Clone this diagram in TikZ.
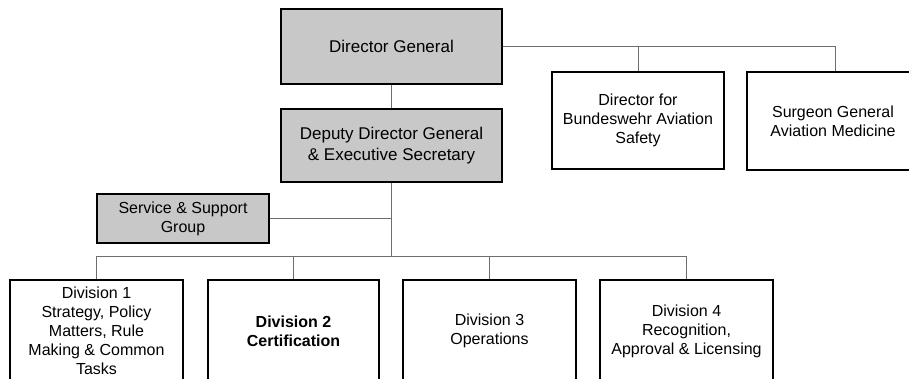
\documentclass[tikz,border=0pt]{standalone}
\usepackage{fontspec}
\setmainfont{Liberation Sans}
\definecolor{boxgray}{RGB}{200,200,200}
\definecolor{linegray}{RGB}{110,110,110}
\begin{document}
\begin{tikzpicture}[x=1pt,y=-1pt,
  box/.style={draw=black,line width=1.4pt,rectangle,inner sep=0pt,align=center,
    font=\fontsize{16}{19}\selectfont},
  topbox/.style={box,fill=boxgray,font=\fontsize{17}{21}\selectfont},
  graybox/.style={box,fill=boxgray},
  conn/.style={draw=linegray,line width=0.9pt}]
\useasboundingbox (0,0) rectangle (909,378);
\clip (0,0) rectangle (909,378);
% nodes
\node[topbox,minimum width=221pt,minimum height=75pt] (dg) at (391.5,46.5) {Director General};
\node[topbox,minimum width=221pt,minimum height=73pt] (ddg) at (391.5,145.5) {Deputy Director General\\\& Executive Secretary};
\node[box,minimum width=172pt,minimum height=97pt] (safety) at (638,120.5) {Director for\\Bundeswehr Aviation\\Safety};
\node[box,minimum width=172pt,minimum height=98pt] (surgeon) at (833,121) {Surgeon General\\Aviation Medicine};
\node[graybox,minimum width=172pt,minimum height=49pt] (service) at (183,218.5) {Service \& Support\\Group};
\node[box,minimum width=173pt,minimum height=102pt] (d1) at (96.5,331) {Division 1\\Strategy, Policy\\Matters, Rule\\Making \& Common\\Tasks};
\node[box,minimum width=171pt,minimum height=102pt] (d2) at (293.5,331) {\bfseries Division 2\\\bfseries Certification};
\node[box,minimum width=173pt,minimum height=102pt] (d3) at (489.5,331) {Division 3\\Operations};
\node[box,minimum width=173pt,minimum height=102pt] (d4) at (686.5,331) {Division 4\\Recognition,\\Approval \& Licensing};
% helper coordinates
\coordinate (busy) at (0,256);
\coordinate (topy) at (0,47);
% connectors
\draw[conn] (dg.south) -- (ddg.north);
\draw[conn] (ddg.south) -- (ddg.south |- busy);
\draw[conn] (service.east) -- (service.east -| ddg.south);
\draw[conn] (d1.north) -- (d1.north |- busy) -- (d4.north |- busy) -- (d4.north);
\draw[conn] (d2.north) -- (d2.north |- busy);
\draw[conn] (d3.north) -- (d3.north |- busy);
\draw[conn] (dg.east) -- (835,47 |- dg.east) coordinate (rtop) -- (rtop |- surgeon.north);
\draw[conn] (safety.north) -- (safety.north |- dg.east);
\end{tikzpicture}
\end{document}
